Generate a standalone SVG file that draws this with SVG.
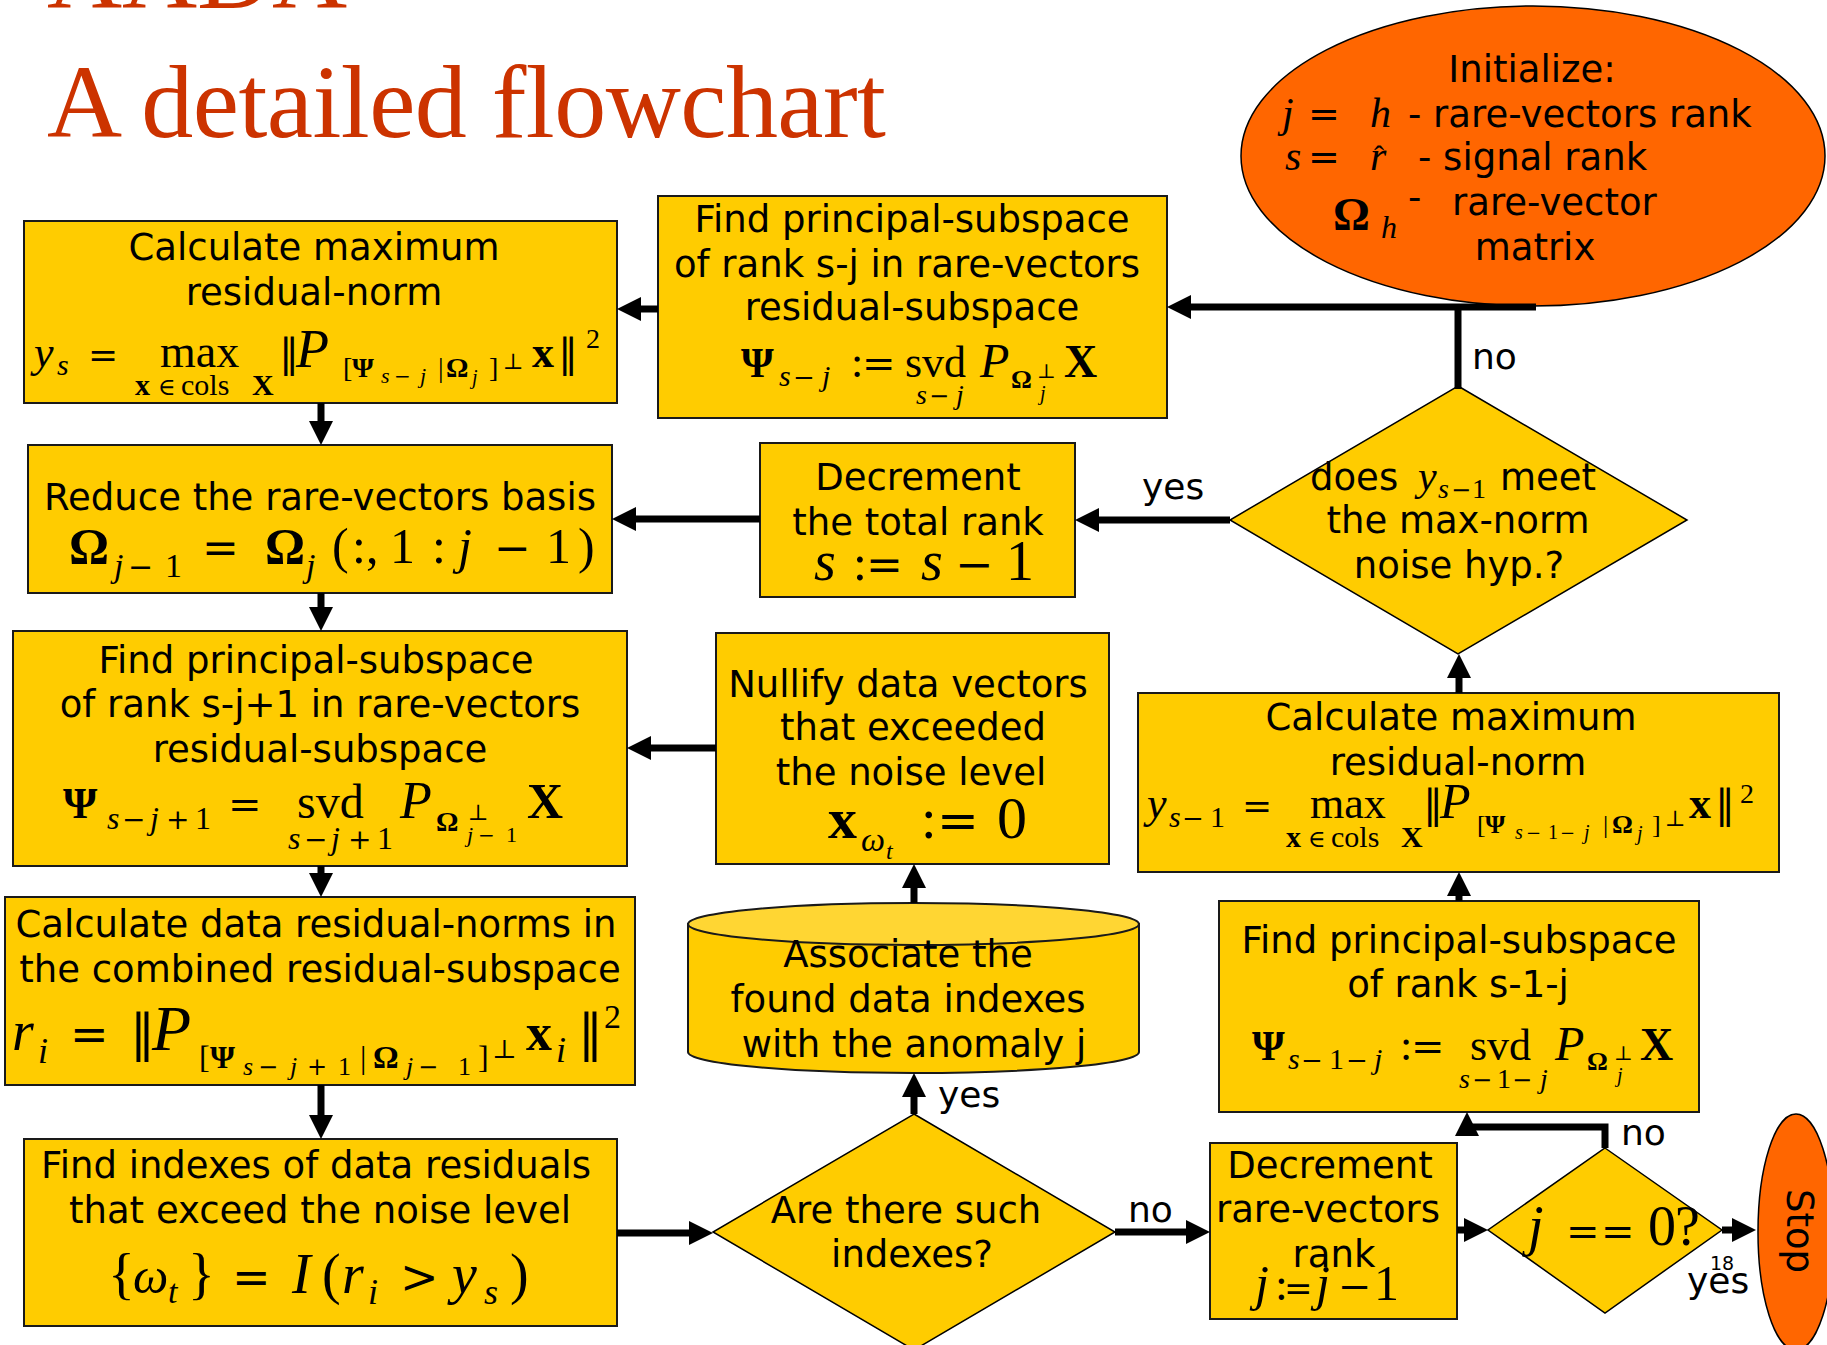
<svg xmlns="http://www.w3.org/2000/svg" width="1827" height="1345" viewBox="0 0 1827 1345">
<style>
  .box { fill:#FFCC00; stroke:#1a1a1a; stroke-width:2; }
  .term { fill:#FF6600; stroke:#000; stroke-width:1.5; }
  .dia { fill:#FFCC00; stroke:#000; stroke-width:1.5; }
  .lbl { font-family:"DejaVu Sans", Verdana, sans-serif; font-size:37px; fill:#000; text-anchor:middle; }
  .tx { font-family:"DejaVu Sans", Verdana, sans-serif; font-size:37px; fill:#000; }
  .cl { font-family:"DejaVu Sans", Verdana, sans-serif; font-size:36px; fill:#000; }
  .m { font-family:"Liberation Serif", "Times New Roman", serif; fill:#000; }
  .op { font-family:"DejaVu Serif", serif; font-style:normal; font-weight:normal; }
  .it { font-style:italic; }
  .bd { font-weight:bold; }
  .ttl { font-family:"Liberation Serif", "Times New Roman", serif; font-size:104px; fill:#CC3300; }
  .con { fill:none; stroke:#000; stroke-width:7; marker-end:url(#ah); }
  .ln { fill:none; stroke:#000; stroke-width:7; }
</style>
<defs>
  <marker id="ah" viewBox="0 0 24 24" refX="14" refY="12" markerWidth="24" markerHeight="24" markerUnits="userSpaceOnUse" orient="auto">
    <path d="M0,0 L24,12 L0,24 Z" fill="#000"/>
  </marker>
</defs>

<rect width="1827" height="1345" fill="#fff"/>

<!-- slide heading -->
<g id="title">
  <text class="ttl" x="47" y="8" textLength="300">AADA</text>
  <text class="ttl" x="47" y="137" textLength="839">A detailed flowchart</text>
</g>

<!-- start terminal -->
<g id="init">
  <ellipse class="term" cx="1533" cy="156" rx="292" ry="150"/>
  <text class="lbl" x="1532" y="82">Initialize:</text>
  <text class="m">
    <tspan class="it" x="1282" y="127" font-size="42">j</tspan>
    <tspan class="op" x="1308" y="127" font-size="38">=</tspan>
    <tspan class="it" x="1370" y="127" font-size="42">h</tspan>
  </text>
  <text class="tx" x="1408" y="127">- rare-vectors rank</text>
  <text class="m">
    <tspan class="it" x="1285" y="170" font-size="42">s</tspan>
    <tspan class="op" x="1308" y="170" font-size="38">=</tspan>
    <tspan class="it" x="1370" y="170" font-size="42">r</tspan>
    <tspan x="1374" y="166" font-size="30">ˆ</tspan>
  </text>
  <text class="tx" x="1418" y="170">- signal rank</text>
  <text class="m">
    <tspan class="bd" x="1333" y="230" font-size="46">Ω</tspan>
    <tspan class="it" x="1381" y="238" font-size="32">h</tspan>
  </text>
  <text class="tx" x="1408" y="210">-</text>
  <text class="tx" x="1452" y="215">rare-vector</text>
  <text class="lbl" x="1535" y="260">matrix</text>
</g>

<!-- max residual-norm, current rank -->
<g id="maxnorm">
  <rect class="box" x="24" y="221" width="593" height="182"/>
  <text class="lbl" x="314" y="260">Calculate maximum</text>
  <text class="lbl" x="314" y="305">residual-norm</text>
  <text class="m">
    <tspan class="it" x="34" y="367" font-size="44">y</tspan>
    <tspan class="it" x="57" y="375" font-size="30">s</tspan>
    <tspan class="op" x="88" y="367" font-size="36">=</tspan>
    <tspan x="160" y="367" font-size="46">max</tspan>
    <tspan class="bd" x="135" y="395" font-size="30">x</tspan>
    <tspan class="op" x="158" y="395" font-size="24">∈</tspan>
    <tspan x="181" y="395" font-size="30">cols</tspan>
    <tspan class="bd" x="252" y="395" font-size="30">X</tspan>
    <tspan class="op" x="279" y="367" font-size="40">‖</tspan>
    <tspan class="it" x="296" y="367" font-size="54">P</tspan>
    <tspan x="343" y="377" font-size="28">[</tspan>
    <tspan class="bd" x="352" y="377" font-size="28">Ψ</tspan>
    <tspan class="it" x="381" y="383" font-size="22">s</tspan>
    <tspan class="op" x="394" y="383" font-size="20">−</tspan>
    <tspan class="it" x="420" y="383" font-size="22">j</tspan>
    <tspan x="438" y="377" font-size="28">|</tspan>
    <tspan class="bd" x="446" y="377" font-size="28">Ω</tspan>
    <tspan class="it" x="472" y="384" font-size="20">j</tspan>
    <tspan x="489" y="377" font-size="28">]</tspan>
    <tspan class="op" x="503" y="369" font-size="22">⊥</tspan>
    <tspan class="bd" x="532" y="367" font-size="44">x</tspan>
    <tspan class="op" x="558" y="367" font-size="40">‖</tspan>
    <tspan x="586" y="348" font-size="28">2</tspan>
  </text>
</g>

<!-- basis reduction -->
<g id="reduce">
  <rect class="box" x="28" y="445" width="584" height="148"/>
  <text class="lbl" x="320" y="510">Reduce the rare-vectors basis</text>
  <text class="m">
    <tspan class="bd" x="69" y="563" font-size="50">Ω</tspan>
    <tspan class="it" x="114" y="577" font-size="34">j</tspan>
    <tspan class="op" x="128" y="577" font-size="30">−</tspan>
    <tspan x="165" y="577" font-size="34">1</tspan>
    <tspan class="op" x="202" y="563" font-size="44">=</tspan>
    <tspan class="bd" x="265" y="563" font-size="50">Ω</tspan>
    <tspan class="it" x="306" y="577" font-size="34">j</tspan>
    <tspan x="332" y="563" font-size="50">(</tspan>
    <tspan x="352" y="563" font-size="50">:,</tspan>
    <tspan x="390" y="563" font-size="50">1</tspan>
    <tspan x="432" y="563" font-size="50">:</tspan>
    <tspan class="it" x="458" y="563" font-size="50">j</tspan>
    <tspan class="op" x="494" y="563" font-size="44">−</tspan>
    <tspan x="546" y="563" font-size="50">1</tspan>
    <tspan x="578" y="563" font-size="50">)</tspan>
  </text>
</g>

<!-- principal subspace of rank s-j+1 -->
<g id="subspace-up">
  <rect class="box" x="13" y="631" width="614" height="235"/>
  <text class="lbl" x="316" y="673">Find principal-subspace</text>
  <text class="lbl" x="320" y="717">of rank s-j+1 in rare-vectors</text>
  <text class="lbl" x="320" y="762">residual-subspace</text>
  <text class="m">
    <tspan class="bd" x="63" y="818" font-size="44">Ψ</tspan>
    <tspan class="it" x="107" y="829" font-size="32">s</tspan>
    <tspan class="op" x="122" y="829" font-size="28">−</tspan>
    <tspan class="it" x="150" y="829" font-size="32">j</tspan>
    <tspan class="op" x="166" y="829" font-size="28">+</tspan>
    <tspan x="195" y="829" font-size="32">1</tspan>
    <tspan class="op" x="228" y="818" font-size="40">=</tspan>
    <tspan x="297" y="818" font-size="48">svd</tspan>
    <tspan class="it" x="288" y="849" font-size="32">s</tspan>
    <tspan class="op" x="304" y="849" font-size="28">−</tspan>
    <tspan class="it" x="331" y="849" font-size="32">j</tspan>
    <tspan class="op" x="348" y="849" font-size="28">+</tspan>
    <tspan x="377" y="849" font-size="32">1</tspan>
    <tspan class="it" x="400" y="818" font-size="52">P</tspan>
    <tspan class="bd" x="436" y="831" font-size="28">Ω</tspan>
    <tspan class="op" x="468" y="820" font-size="22">⊥</tspan>
    <tspan class="it" x="467" y="842" font-size="22">j</tspan>
    <tspan class="op" x="478" y="842" font-size="20">−</tspan>
    <tspan x="506" y="842" font-size="22">1</tspan>
    <tspan class="bd" x="527" y="818" font-size="50">X</tspan>
  </text>
</g>

<!-- data residual norms -->
<g id="residuals">
  <rect class="box" x="5" y="897" width="630" height="188"/>
  <text class="lbl" x="316" y="937">Calculate data residual-norms in</text>
  <text class="lbl" x="320" y="982">the combined residual-subspace</text>
  <text class="m">
    <tspan class="it" x="12" y="1050" font-size="56">r</tspan>
    <tspan class="it" x="38" y="1063" font-size="36">i</tspan>
    <tspan class="op" x="70" y="1050" font-size="46">=</tspan>
    <tspan class="op" x="130" y="1050" font-size="50">‖</tspan>
    <tspan class="it" x="152" y="1050" font-size="64">P</tspan>
    <tspan x="199" y="1068" font-size="32">[</tspan>
    <tspan class="bd" x="210" y="1068" font-size="32">Ψ</tspan>
    <tspan class="it" x="243" y="1075" font-size="26">s</tspan>
    <tspan class="op" x="258" y="1075" font-size="24">−</tspan>
    <tspan class="it" x="290" y="1075" font-size="26">j</tspan>
    <tspan class="op" x="307" y="1075" font-size="24">+</tspan>
    <tspan x="338" y="1075" font-size="26">1</tspan>
    <tspan x="360" y="1068" font-size="32">|</tspan>
    <tspan class="bd" x="373" y="1068" font-size="32">Ω</tspan>
    <tspan class="it" x="406" y="1075" font-size="26">j</tspan>
    <tspan class="op" x="418" y="1075" font-size="24">−</tspan>
    <tspan x="458" y="1075" font-size="26">1</tspan>
    <tspan x="478" y="1068" font-size="32">]</tspan>
    <tspan class="op" x="492" y="1058" font-size="26">⊥</tspan>
    <tspan class="bd" x="526" y="1050" font-size="52">x</tspan>
    <tspan class="it" x="556" y="1062" font-size="36">i</tspan>
    <tspan class="op" x="578" y="1050" font-size="50">‖</tspan>
    <tspan x="604" y="1028" font-size="34">2</tspan>
  </text>
</g>

<!-- indexes above noise level -->
<g id="indexes">
  <rect class="box" x="24" y="1139" width="593" height="187"/>
  <text class="lbl" x="316" y="1178">Find indexes of data residuals</text>
  <text class="lbl" x="320" y="1223">that exceed the noise level</text>
  <text class="m">
    <tspan x="108" y="1293" font-size="56">{</tspan>
    <tspan class="it" x="133" y="1293" font-size="50">ω</tspan>
    <tspan class="it" x="168" y="1303" font-size="34">t</tspan>
    <tspan x="188" y="1293" font-size="56">}</tspan>
    <tspan class="op" x="232" y="1293" font-size="46">=</tspan>
    <tspan class="it" x="292" y="1293" font-size="56">I</tspan>
    <tspan x="322" y="1293" font-size="56">(</tspan>
    <tspan class="it" x="342" y="1293" font-size="56">r</tspan>
    <tspan class="it" x="368" y="1304" font-size="36">i</tspan>
    <tspan class="op" x="400" y="1293" font-size="46">&gt;</tspan>
    <tspan class="it" x="452" y="1293" font-size="56">y</tspan>
    <tspan class="it" x="484" y="1304" font-size="36">s</tspan>
    <tspan x="510" y="1293" font-size="56">)</tspan>
  </text>
</g>

<!-- principal subspace of rank s-j -->
<g id="subspace">
  <rect class="box" x="658" y="196" width="509" height="222"/>
  <text class="lbl" x="912" y="232">Find principal-subspace</text>
  <text class="lbl" x="907" y="277">of rank s-j in rare-vectors</text>
  <text class="lbl" x="912" y="320">residual-subspace</text>
  <text class="m">
    <tspan class="bd" x="741" y="377" font-size="42">Ψ</tspan>
    <tspan class="it" x="779" y="386" font-size="30">s</tspan>
    <tspan class="op" x="793" y="386" font-size="26">−</tspan>
    <tspan class="it" x="822" y="386" font-size="30">j</tspan>
    <tspan x="851" y="377" font-size="44">:</tspan>
    <tspan class="op" x="862" y="377" font-size="40">=</tspan>
    <tspan x="905" y="377" font-size="44">svd</tspan>
    <tspan class="it" x="916" y="404" font-size="28">s</tspan>
    <tspan class="op" x="929" y="404" font-size="24">−</tspan>
    <tspan class="it" x="956" y="404" font-size="28">j</tspan>
    <tspan class="it" x="980" y="377" font-size="48">P</tspan>
    <tspan class="bd" x="1011" y="388" font-size="26">Ω</tspan>
    <tspan class="op" x="1037" y="378" font-size="20">⊥</tspan>
    <tspan class="it" x="1040" y="400" font-size="20">j</tspan>
    <tspan class="bd" x="1064" y="377" font-size="46">X</tspan>
  </text>
</g>

<!-- decrement total rank -->
<g id="dec-total">
  <rect class="box" x="760" y="443" width="315" height="154"/>
  <text class="lbl" x="918" y="490">Decrement</text>
  <text class="lbl" x="918" y="535">the total rank</text>
  <text class="m">
    <tspan class="it" x="814" y="580" font-size="56">s</tspan>
    <tspan x="853" y="580" font-size="50">:</tspan>
    <tspan class="op" x="866" y="580" font-size="44">=</tspan>
    <tspan class="it" x="921" y="580" font-size="56">s</tspan>
    <tspan class="op" x="955" y="580" font-size="46">−</tspan>
    <tspan x="1006" y="580" font-size="56">1</tspan>
  </text>
</g>

<!-- nullify exceeding vectors -->
<g id="nullify">
  <rect class="box" x="716" y="633" width="393" height="231"/>
  <text class="lbl" x="908" y="697">Nullify data vectors</text>
  <text class="lbl" x="913" y="740">that exceeded</text>
  <text class="lbl" x="911" y="785">the noise level</text>
  <text class="m">
    <tspan class="bd" x="828" y="838" font-size="58">x</tspan>
    <tspan class="it" x="861" y="851" font-size="34">ω</tspan>
    <tspan class="it" x="886" y="859" font-size="24">t</tspan>
    <tspan x="921" y="838" font-size="56">:</tspan>
    <tspan class="op" x="937" y="838" font-size="50">=</tspan>
    <tspan x="997" y="838" font-size="60">0</tspan>
  </text>
</g>

<!-- anomaly association store -->
<g id="associate">
  <path class="box" d="M688,924 V1052 A225.5,21 0 0 0 1139,1052 V924 Z"/>
  <ellipse cx="913.5" cy="924" rx="225.5" ry="21" fill="#FFD633" stroke="#1a1a1a" stroke-width="2"/>
  <text class="lbl" x="908" y="967">Associate the</text>
  <text class="lbl" x="908" y="1012">found data indexes</text>
  <text class="lbl" x="914" y="1057">with the anomaly j</text>
</g>

<!-- max residual-norm, reduced rank -->
<g id="maxnorm-next">
  <rect class="box" x="1138" y="693" width="641" height="179"/>
  <text class="lbl" x="1451" y="730">Calculate maximum</text>
  <text class="lbl" x="1458" y="775">residual-norm</text>
  <text class="m">
    <tspan class="it" x="1147" y="818" font-size="44">y</tspan>
    <tspan class="it" x="1169" y="827" font-size="30">s</tspan>
    <tspan class="op" x="1182" y="827" font-size="26">−</tspan>
    <tspan x="1210" y="827" font-size="30">1</tspan>
    <tspan class="op" x="1242" y="818" font-size="36">=</tspan>
    <tspan x="1310" y="818" font-size="44">max</tspan>
    <tspan class="bd" x="1286" y="847" font-size="30">x</tspan>
    <tspan class="op" x="1308" y="847" font-size="24">∈</tspan>
    <tspan x="1331" y="847" font-size="30">cols</tspan>
    <tspan class="bd" x="1401" y="847" font-size="30">X</tspan>
    <tspan class="op" x="1423" y="818" font-size="40">‖</tspan>
    <tspan class="it" x="1440" y="818" font-size="50">P</tspan>
    <tspan x="1477" y="833" font-size="26">[</tspan>
    <tspan class="bd" x="1485" y="833" font-size="26">Ψ</tspan>
    <tspan class="it" x="1515" y="839" font-size="20">s</tspan>
    <tspan class="op" x="1526" y="839" font-size="18">−</tspan>
    <tspan x="1548" y="839" font-size="20">1</tspan>
    <tspan class="op" x="1560" y="839" font-size="18">−</tspan>
    <tspan class="it" x="1584" y="839" font-size="20">j</tspan>
    <tspan x="1603" y="833" font-size="26">|</tspan>
    <tspan class="bd" x="1612" y="833" font-size="26">Ω</tspan>
    <tspan class="it" x="1637" y="840" font-size="20">j</tspan>
    <tspan x="1652" y="833" font-size="26">]</tspan>
    <tspan class="op" x="1665" y="826" font-size="22">⊥</tspan>
    <tspan class="bd" x="1689" y="818" font-size="44">x</tspan>
    <tspan class="op" x="1715" y="818" font-size="40">‖</tspan>
    <tspan x="1740" y="803" font-size="28">2</tspan>
  </text>
</g>

<!-- principal subspace of rank s-1-j -->
<g id="subspace-next">
  <rect class="box" x="1219" y="901" width="480" height="211"/>
  <text class="lbl" x="1459" y="953">Find principal-subspace</text>
  <text class="lbl" x="1458" y="997">of rank s-1-j</text>
  <text class="m">
    <tspan class="bd" x="1252" y="1060" font-size="42">Ψ</tspan>
    <tspan class="it" x="1288" y="1069" font-size="30">s</tspan>
    <tspan class="op" x="1301" y="1069" font-size="26">−</tspan>
    <tspan x="1329" y="1069" font-size="30">1</tspan>
    <tspan class="op" x="1346" y="1069" font-size="26">−</tspan>
    <tspan class="it" x="1374" y="1069" font-size="30">j</tspan>
    <tspan x="1400" y="1060" font-size="44">:</tspan>
    <tspan class="op" x="1411" y="1060" font-size="40">=</tspan>
    <tspan x="1470" y="1060" font-size="44">svd</tspan>
    <tspan class="it" x="1459" y="1088" font-size="28">s</tspan>
    <tspan class="op" x="1472" y="1088" font-size="24">−</tspan>
    <tspan x="1497" y="1088" font-size="28">1</tspan>
    <tspan class="op" x="1512" y="1088" font-size="24">−</tspan>
    <tspan class="it" x="1540" y="1088" font-size="28">j</tspan>
    <tspan class="it" x="1555" y="1060" font-size="48">P</tspan>
    <tspan class="bd" x="1587" y="1070" font-size="26">Ω</tspan>
    <tspan class="op" x="1614" y="1060" font-size="20">⊥</tspan>
    <tspan class="it" x="1617" y="1082" font-size="20">j</tspan>
    <tspan class="bd" x="1640" y="1060" font-size="46">X</tspan>
  </text>
</g>

<!-- decrement rare-vectors rank -->
<g id="dec-rare">
  <rect class="box" x="1210" y="1143" width="247" height="176"/>
  <text class="lbl" x="1330" y="1178">Decrement</text>
  <text class="lbl" x="1328" y="1222">rare-vectors</text>
  <text class="lbl" x="1334" y="1267">rank</text>
  <text class="m">
    <tspan class="it" x="1255" y="1300" font-size="50">j</tspan>
    <tspan x="1275" y="1300" font-size="46">:</tspan>
    <tspan class="op" x="1284" y="1300" font-size="34">=</tspan>
    <tspan class="it" x="1316" y="1300" font-size="50">j</tspan>
    <tspan class="op" x="1338" y="1300" font-size="40">−</tspan>
    <tspan x="1374" y="1300" font-size="50">1</tspan>
  </text>
</g>

<!-- noise hypothesis test -->
<g id="test-noise">
  <polygon class="dia" points="1458,386 1687,520 1458,654 1230,520"/>
  <text class="tx" x="1310" y="490">does</text>
  <text class="m">
    <tspan class="it" x="1418" y="490" font-size="42">y</tspan>
    <tspan class="it" x="1438" y="498" font-size="28">s</tspan>
    <tspan class="op" x="1451" y="498" font-size="24">−</tspan>
    <tspan x="1472" y="498" font-size="28">1</tspan>
  </text>
  <text class="tx" x="1500" y="490">meet</text>
  <text class="lbl" x="1458" y="533">the max-norm</text>
  <text class="lbl" x="1459" y="578">noise hyp.?</text>
</g>

<!-- any indexes test -->
<g id="test-indexes">
  <polygon class="dia" points="914,1114 1115,1232 914,1350 713,1232"/>
  <text class="lbl" x="906" y="1223">Are there such</text>
  <text class="lbl" x="912" y="1267">indexes?</text>
</g>

<!-- rank zero test -->
<g id="test-zero">
  <polygon class="dia" points="1605,1148 1722,1230 1605,1313 1488,1230"/>
  <text class="m">
    <tspan class="it" x="1528" y="1245" font-size="56">j</tspan>
    <tspan class="op" x="1566" y="1245" font-size="40">=</tspan>
    <tspan class="op" x="1601" y="1245" font-size="40">=</tspan>
    <tspan x="1648" y="1245" font-size="56">0</tspan>
    <tspan x="1675" y="1245" font-size="56">?</tspan>
  </text>
</g>

<!-- end terminal -->
<g id="stop">
  <ellipse class="term" cx="1796" cy="1232" rx="38" ry="118"/>
  <text class="lbl" transform="translate(1787,1231) rotate(90)" x="0" y="0">Stop</text>
</g>

<!-- connectors -->
<g id="connectors">
  <path class="con" d="M1536,307 H1177"/>
  <path class="ln" d="M1458,389 V304"/>
  <path class="con" d="M658,309 H627"/>
  <path class="con" d="M321,403 V435"/>
  <path class="con" d="M760,519 H622"/>
  <path class="con" d="M1230,520 H1085"/>
  <path class="con" d="M1459,693 V664"/>
  <path class="con" d="M1459,901 V882"/>
  <path class="con" d="M321,593 V621"/>
  <path class="con" d="M716,748 H637"/>
  <path class="con" d="M321,866 V887"/>
  <path class="con" d="M321,1085 V1129"/>
  <path class="con" d="M617,1233 H703"/>
  <path class="con" d="M914,1114 V1083"/>
  <path class="con" d="M914,903 V874"/>
  <path class="con" d="M1115,1232 H1200"/>
  <path class="con" d="M1457,1230 H1478"/>
  <path class="con" d="M1605,1148 V1127 H1467 V1122"/>
  <path class="con" d="M1722,1230 H1746"/>
  <text class="cl" x="1472" y="369">no</text>
  <text class="cl" x="1142" y="499">yes</text>
  <text class="cl" x="938" y="1107">yes</text>
  <text class="cl" x="1128" y="1222">no</text>
  <text class="cl" x="1621" y="1145">no</text>
  <text class="cl" x="1687" y="1293">yes</text>
  <text class="tx" x="1710" y="1270" style="font-size:19px">18</text>
</g>
</svg>
